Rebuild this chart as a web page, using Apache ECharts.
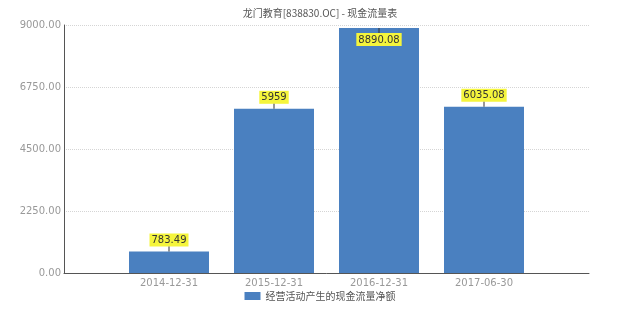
<!DOCTYPE html>
<html><head><meta charset="utf-8">
<script src="https://cdn.jsdelivr.net/npm/echarts@6/dist/echarts.min.js"></script>
<style>html,body{margin:0;padding:0;background:#fff}#c{width:640px;height:317px}</style>
</head><body><div id="c"></div>
<script>
var categories = ['', '2014-12-31', '2015-12-31', '2016-12-31', '2017-06-30', ''];
var values = [null, 783.49, 5959, 8890.08, 6035.08, null];
var valueLabels = ['', '783.49', '5959', '8890.08', '6035.08', ''];
var seriesName = '经营活动产生的现金流量净额';
var titleText = '龙门教育[838830.OC] - 现金流量表';
var yTicks = [0, 2250, 4500, 6750, 9000];

var chart = echarts.init(document.getElementById('c'));
var rich = {
  v: {backgroundColor: '#f5f53c', color: '#333', padding: [2, 2, 1, 2], fontSize: 10, fontFamily: 'DejaVu Sans', lineHeight: 13},
  t: {width: 1, height: 5, backgroundColor: '#333', lineHeight: 5}
};
var data = values.map(function (v, i) {
  if (v === null) return null;
  var inside = v > 8000;
  return {
    value: v,
    label: {
      show: true,
      position: inside ? 'insideTop' : 'top',
      distance: 0,
      formatter: inside ? '{t|}\n{v|' + valueLabels[i] + '}' : '{v|' + valueLabels[i] + '}\n{t|}',
      rich: rich
    }
  };
});
chart.setOption({
  animation: false,
  title: {text: titleText, left: 'center', top: 3, textStyle: {fontSize: 10, fontWeight: 'normal', color: '#555', fontFamily: 'Noto Sans CJK SC'}},
  legend: {bottom: 11, left: 'center', icon: 'rect', itemWidth: 16, itemHeight: 8, itemGap: 5, textStyle: {fontSize: 10, color: '#555', fontFamily: 'Noto Sans CJK SC'}, data: [seriesName]},
  grid: {left: 64, right: 51, top: 25, bottom: 44},
  xAxis: {
    type: 'category', data: categories, boundaryGap: false,
    axisLine: {lineStyle: {color: '#555'}},
    axisTick: {show: false},
    axisLabel: {color: '#999', fontSize: 10, fontFamily: 'DejaVu Sans', margin: 5}
  },
  yAxis: {
    type: 'value', min: yTicks[0], max: yTicks[yTicks.length - 1], interval: 2250,
    axisLine: {show: true, lineStyle: {color: '#555'}},
    axisTick: {show: false},
    axisLabel: {color: '#999', fontSize: 10, fontFamily: 'DejaVu Sans', margin: 3, formatter: function (v) { return v.toFixed(2); }},
    splitLine: {lineStyle: {type: 'dotted', color: '#d5d5d5'}}
  },
  series: [{
    name: seriesName, type: 'bar', data: data, barWidth: 80,
    itemStyle: {color: '#4a80c0'}
  }]
});
</script></body></html>
